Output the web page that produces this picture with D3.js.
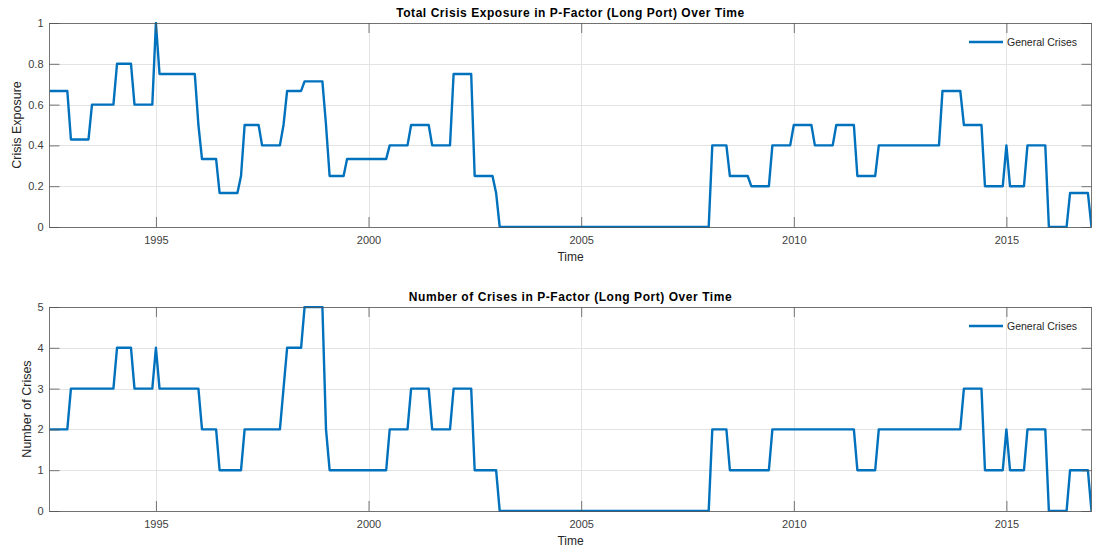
<!DOCTYPE html>
<html>
<head>
<meta charset="utf-8">
<script src="https://cdn.jsdelivr.net/npm/d3@7"></script>
<style>
  body { margin: 0; background: #fff; }
  svg { display: block; font-family: "Liberation Sans", Arial, sans-serif; }
</style>
</head>
<body>
<div id="chart"></div>
<script>
// step data: each value holds from its start month until the next start
var exposureStart = ["1992-07", "1993-01", "1993-07", "1994-02", "1994-07", "1995-01", "1995-02",
    "1996-01", "1996-02", "1996-07", "1997-01", "1997-02", "1997-07", "1998-01", "1998-02", "1998-07",
    "1999-01", "1999-02", "1999-07", "2000-07", "2001-01", "2001-07", "2002-01", "2002-07", "2003-01",
    "2003-02", "2008-02", "2008-07", "2009-01", "2009-07", "2010-01", "2010-07", "2011-01", "2011-07",
    "2012-01", "2013-07", "2014-01", "2014-07", "2015-01", "2015-02", "2015-07", "2016-01", "2016-07",
    "2017-01"];
var exposureValue = [0.667, 0.429, 0.6, 0.8, 0.6, 1, 0.75,
    0.5, 0.333, 0.167, 0.25, 0.5, 0.4, 0.5, 0.667, 0.714,
    0.5, 0.25, 0.333, 0.4, 0.5, 0.4, 0.75, 0.25, 0.167,
    0, 0.4, 0.25, 0.2, 0.4, 0.5, 0.4, 0.5, 0.25,
    0.4, 0.667, 0.5, 0.2, 0.4, 0.2, 0.4, 0, 0.167,
    0];

var countStart = ["1992-07", "1993-01", "1994-02", "1994-07", "1995-01", "1995-02", "1996-02",
    "1996-07", "1997-02", "1998-01", "1998-02", "1998-07", "1999-01", "1999-02", "2000-07", "2001-01",
    "2001-07", "2002-01", "2002-07", "2003-02", "2008-02", "2008-07", "2009-07", "2011-07", "2012-01",
    "2014-01", "2014-07", "2015-01", "2015-02", "2015-07", "2016-01", "2016-07", "2017-01"];
var countValue = [2, 3, 4, 3, 4, 3, 2,
    1, 2, 3, 4, 5, 2, 1, 2, 3,
    2, 3, 1, 0, 2, 1, 2, 1, 2,
    3, 1, 2, 1, 2, 0, 1, 0];

var xTicks = ["1995", "2000", "2005", "2010", "2015"];
var exposureTicks = [0, 0.2, 0.4, 0.6, 0.8, 1];
var countTicks = [0, 1, 2, 3, 4, 5];
var seriesName = "General Crises";

var width = 1094,
    height = 550,
    lineColor = "#0072bd",
    axisColor = "#262626",
    parseMonth = d3.utcParse("%Y-%m"),
    parseYear = d3.utcParse("%Y");

// turn runs into monthly points
function monthly(starts, values) {
    var pts = [];
    starts.forEach(function (s, i) {
        var a = parseMonth(s);
        var months = i < starts.length - 1 ? d3.utcMonth.range(a, parseMonth(starts[i + 1])) : [a];
        months.forEach(function (m) { pts.push({date: m, value: values[i]}); });
    });
    return pts;
}

var svg = d3.select("#chart")
    .append("svg")
    .attr("width", width)
    .attr("height", height);

var x = d3.scaleUtc()
    .domain([parseMonth(exposureStart[0]), parseMonth(exposureStart[exposureStart.length - 1])])
    .range([49.5, 1091.5]);

function panel(top, data, yDomain, yTicks, title, ylabel, ylabelX, id) {
    var bottom = top + 204;
    var y = d3.scaleLinear().domain(yDomain).range([bottom, top]);
    var g = svg.append("g");

    // grid
    g.selectAll("line.vgrid")
        .data(xTicks)
        .enter().append("line")
        .attr("x1", function (d) { return Math.round(x(parseYear(d))) + 0.5; })
        .attr("x2", function (d) { return Math.round(x(parseYear(d))) + 0.5; })
        .attr("y1", top).attr("y2", bottom)
        .style("stroke", "#e3e3e3");
    g.selectAll("line.hgrid")
        .data(yTicks)
        .enter().append("line")
        .attr("x1", x.range()[0]).attr("x2", x.range()[1])
        .attr("y1", function (d) { return Math.round(y(d)) + 0.5; })
        .attr("y2", function (d) { return Math.round(y(d)) + 0.5; })
        .style("stroke", "#e3e3e3");

    g.append("clipPath").attr("id", id)
        .append("rect")
        .attr("x", x.range()[0]).attr("y", top - 1)
        .attr("width", x.range()[1] - x.range()[0]).attr("height", bottom - top + 2);

    var line = d3.line()
        .x(function (d) { return x(d.date); })
        .y(function (d) { return y(d.value); });

    g.append("path")
        .datum(data)
        .attr("d", line)
        .attr("clip-path", "url(#" + id + ")")
        .style("fill", "none")
        .style("stroke", lineColor)
        .style("stroke-width", 2.4)
        .style("stroke-linejoin", "round");

    // axes, MATLAB style box with inward ticks
    var xa = g.append("g")
        .attr("transform", "translate(0," + bottom + ")")
        .call(d3.axisBottom(x).tickValues(xTicks.map(parseYear)).tickSize(-10).tickPadding(9)
            .tickFormat(d3.utcFormat("%Y")));
    var xt = g.append("g")
        .attr("transform", "translate(0," + top + ")")
        .call(d3.axisTop(x).tickValues(xTicks.map(parseYear)).tickSize(-10).tickFormat(""));
    var ya = g.append("g")
        .attr("transform", "translate(" + x.range()[0] + ",0)")
        .call(d3.axisLeft(y).tickValues(yTicks).tickSize(-10).tickPadding(6).tickFormat(d3.format("~g")));
    var yr = g.append("g")
        .attr("transform", "translate(" + x.range()[1] + ",0)")
        .call(d3.axisRight(y).tickValues(yTicks).tickSize(-10).tickFormat(""));

    [xa, xt, ya, yr].forEach(function (a) {
        a.select(".domain").remove();
        a.selectAll("line").style("stroke", "#555").style("stroke-width", 0.8);
        a.selectAll("text").style("font-size", "11px").style("fill", "#404040")
            .style("font-family", "Liberation Sans, Arial, sans-serif");
    });

    g.append("rect")
        .attr("x", x.range()[0]).attr("y", top + 0.5)
        .attr("width", x.range()[1] - x.range()[0]).attr("height", bottom - top)
        .style("fill", "none")
        .style("stroke", "#555")
        .style("stroke-width", 0.8);

    // labels
    g.append("text")
        .text(title)
        .attr("x", (x.range()[0] + x.range()[1]) / 2)
        .attr("y", top - 6)
        .style("text-anchor", "middle")
        .style("font-weight", "bold")
        .style("font-size", "12px")
        .style("letter-spacing", "0.55px")
        .style("fill", "#000");

    g.append("text")
        .text("Time")
        .attr("x", (x.range()[0] + x.range()[1]) / 2)
        .attr("y", bottom + 34)
        .style("text-anchor", "middle")
        .style("font-size", "12px")
        .style("fill", axisColor);

    g.append("text")
        .text(ylabel)
        .attr("transform", "translate(" + ylabelX + "," + (top + bottom) / 2 + ")rotate(-90)")
        .style("text-anchor", "middle")
        .style("font-size", "12.5px")
        .style("fill", axisColor);

    // legend
    var lg = g.append("g").attr("transform", "translate(969," + (top + 19) + ")");
    lg.append("line")
        .attr("x1", 0).attr("x2", 34)
        .style("stroke", lineColor)
        .style("stroke-width", 2.4);
    lg.append("text")
        .text(seriesName)
        .attr("x", 38)
        .attr("y", 3.8)
        .style("font-size", "10.5px")
        .style("fill", axisColor);
}

panel(23, monthly(exposureStart, exposureValue), [0, 1], exposureTicks,
    "Total Crisis Exposure in P-Factor (Long Port) Over Time", "Crisis Exposure", 21, "clipTop");
panel(307, monthly(countStart, countValue), [0, 5], countTicks,
    "Number of Crises in P-Factor (Long Port) Over Time", "Number of Crises", 31, "clipBottom");
</script>
</body>
</html>
